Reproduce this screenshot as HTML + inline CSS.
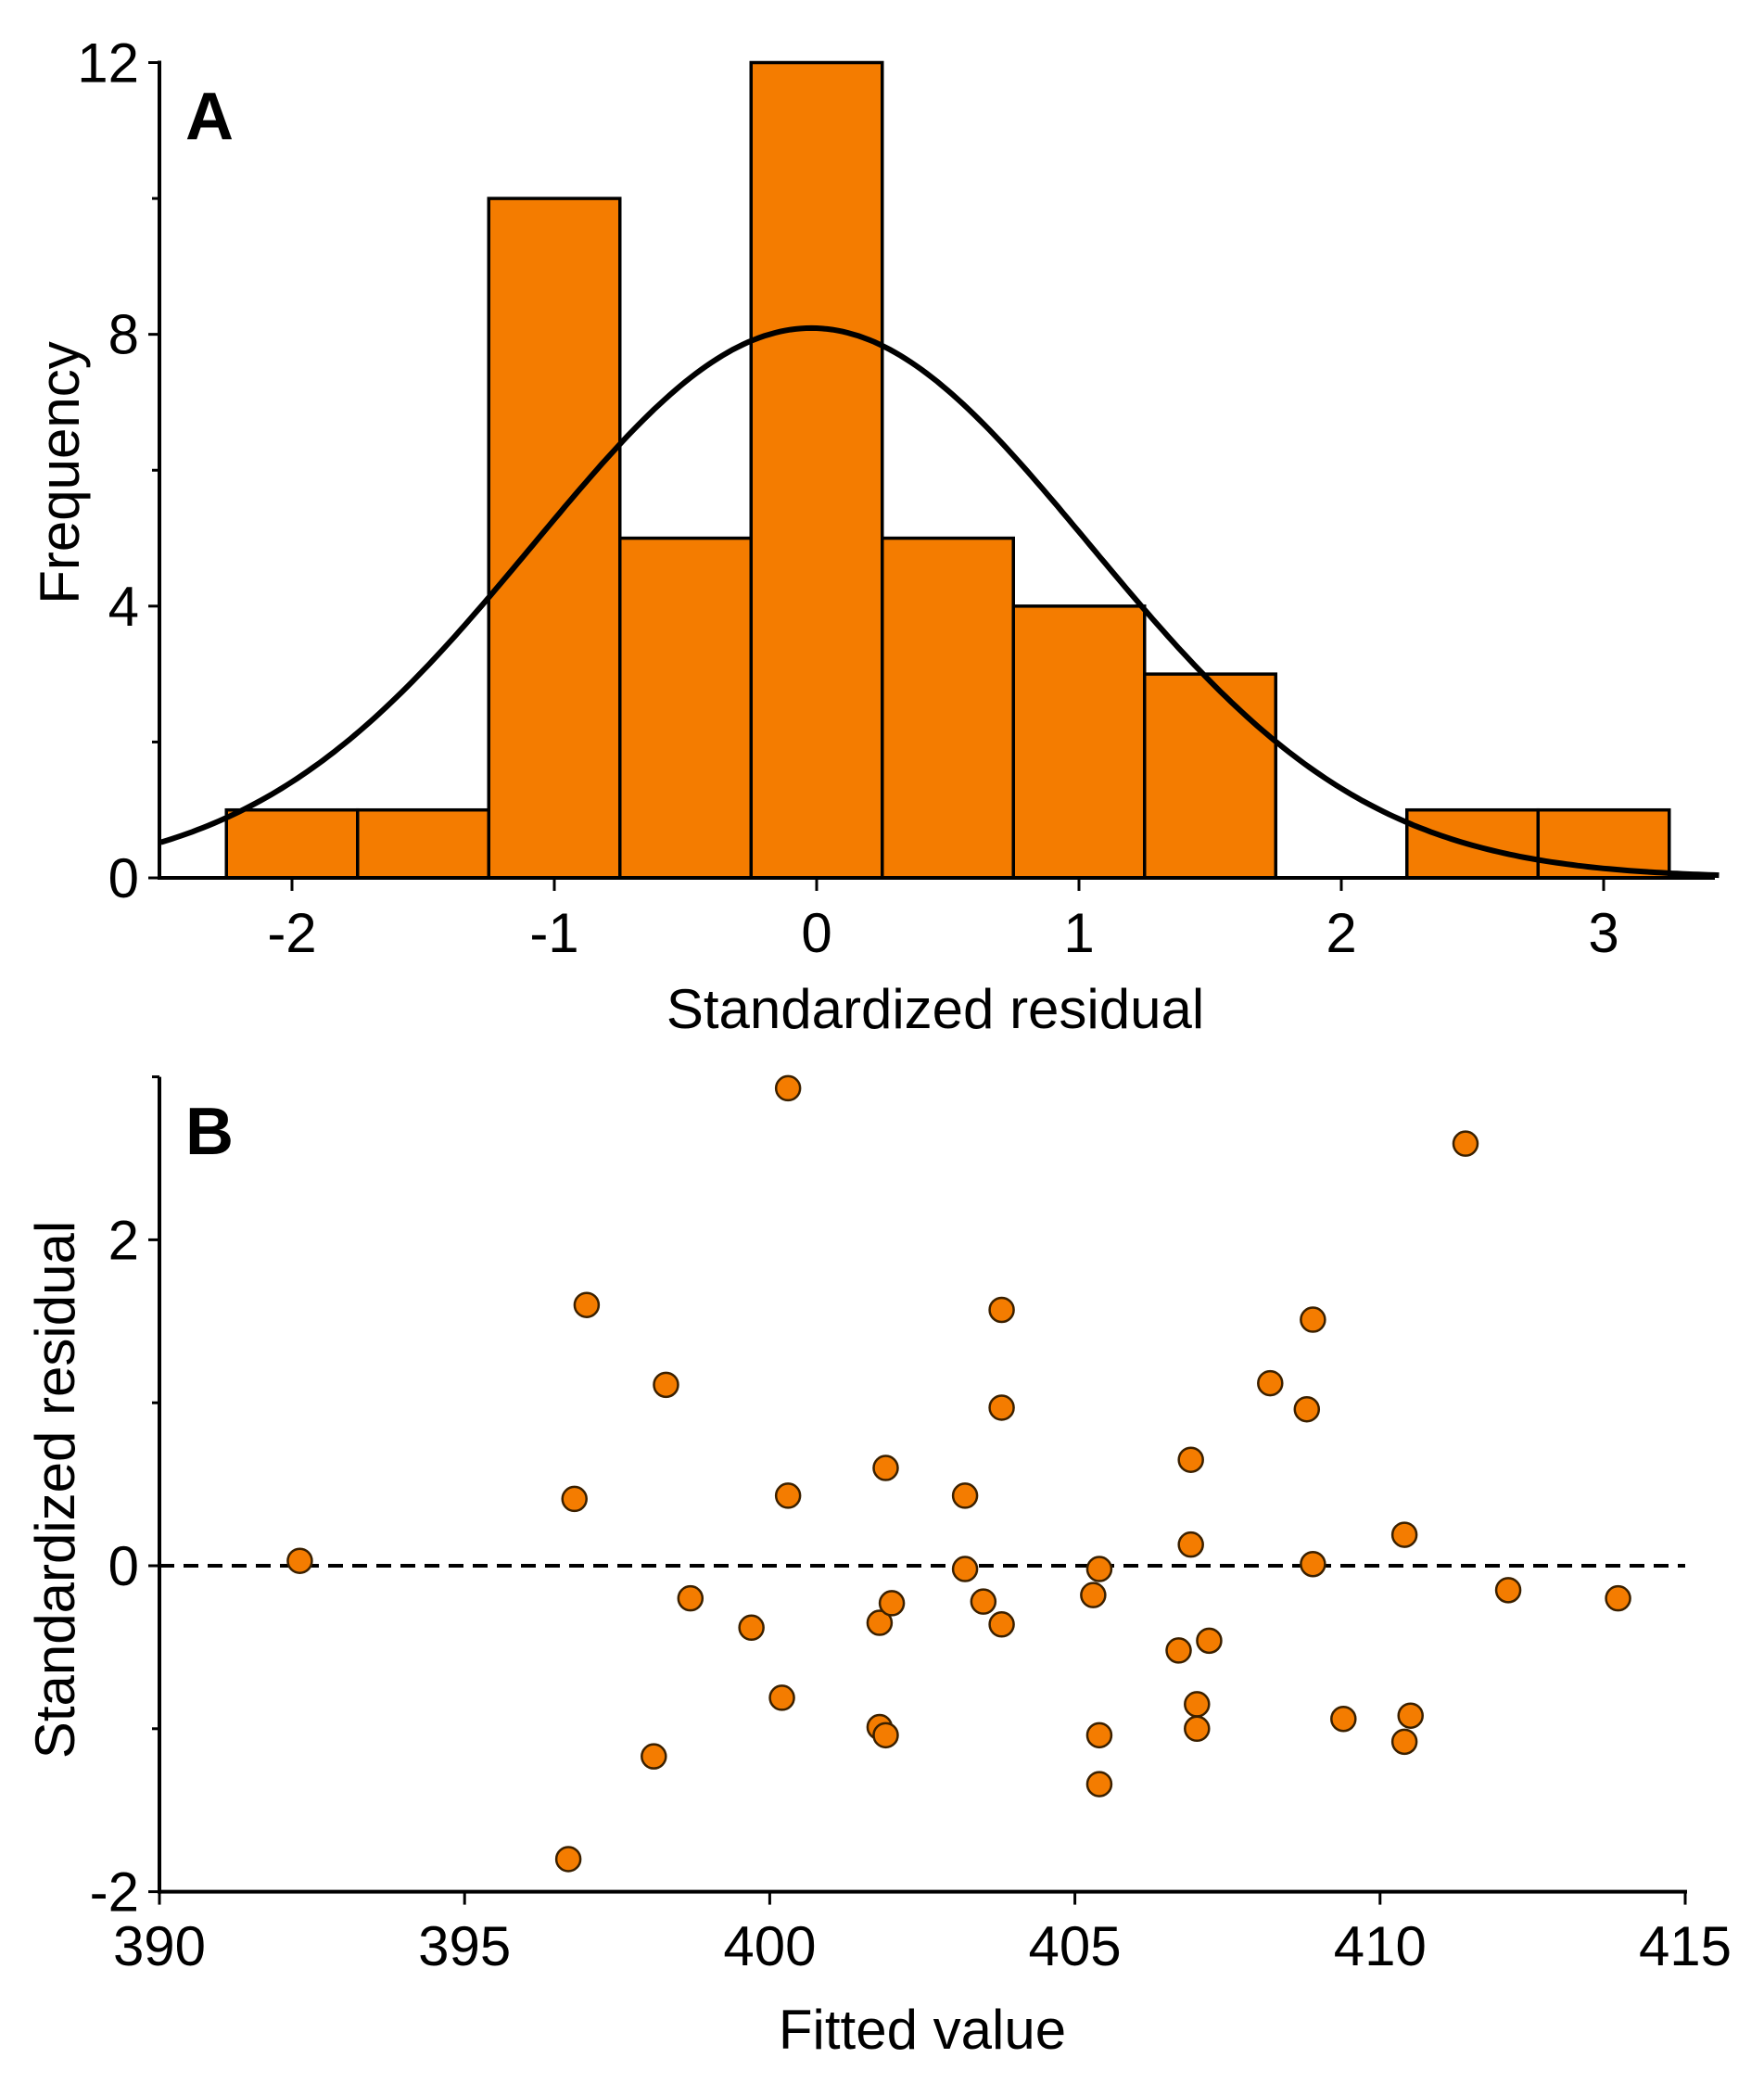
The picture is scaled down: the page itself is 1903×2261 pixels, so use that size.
<!DOCTYPE html>
<html><head><meta charset="utf-8"><style>
html,body{margin:0;padding:0;background:#fff;}
svg{display:block;font-family:"Liberation Sans",Arial,sans-serif;}
</style></head><body>
<svg id="chart" width="1903" height="2261" viewBox="0 0 1903 2261" xmlns="http://www.w3.org/2000/svg">
<g id="pa"></g>
<g id="pb"></g>
</svg>
<script>
// Panel A data
const binStarts = [-2.25,-1.75,-1.25,-0.75,-0.25,0.25,0.75,1.25,1.75,2.25,2.75];
const binCounts = [1,1,10,5,12,5,4,3,0,1,1];
const binWidth = 0.5;
const aXTicks = [-2,-1,0,1,2,3];
const aYTicks = [0,4,8,12];
const aYMinor = [2,6,10];
const curveMean = -0.02;
const curveSd = 1.06;
const curveN = 43;
// Panel B data
const fitted = [392.3,397.0,396.8,396.7,398.3,398.1,398.7,399.7,400.3,400.3,400.2,401.9,401.8,402.0,401.8,401.9,403.2,403.2,403.5,403.8,403.8,403.8,405.4,405.3,405.4,405.4,406.7,406.9,406.9,407.0,407.0,407.2,408.2,408.8,408.9,408.9,409.4,410.4,410.5,410.4,411.4,412.1,413.9];
const resid = [0.03,1.6,0.41,-1.8,1.11,-1.17,-0.2,-0.38,2.93,0.43,-0.81,0.6,-0.35,-0.23,-0.99,-1.04,0.43,-0.02,-0.22,1.57,0.97,-0.36,-0.02,-0.18,-1.04,-1.34,-0.52,0.13,0.65,-0.85,-1.0,-0.46,1.12,0.96,1.51,0.01,-0.94,0.19,-0.92,-1.08,2.59,-0.15,-0.2];
const bXTicks = [390,395,400,405,410,415];
const bYTicks = [-2,0,2];
const bYMinor = [-1,1,3];

const NS="http://www.w3.org/2000/svg";
function mk(parent,tag,attrs,text){const e=document.createElementNS(NS,tag);for(const k in attrs)e.setAttribute(k,attrs[k]);if(text!==undefined)e.textContent=text;parent.appendChild(e);return e;}

// ---- Panel A ----
const pa=document.getElementById('pa');
const ax=v=>881+v*283;
const ay=v=>947-v*(947-67.5)/12;
binStarts.forEach((s,i)=>{
  const r=mk(pa,'rect',{x:ax(s),y:ay(binCounts[i]),width:ax(s+binWidth)-ax(s),height:ay(0)-ay(binCounts[i]),fill:'#f47c00',stroke:'#000','stroke-width':3.5});
  
  
});
let d='';
for(let x=-2.5;x<=3.45;x+=0.02){
  const y=curveN*binWidth/(curveSd*Math.sqrt(2*Math.PI))*Math.exp(-((x-curveMean)**2)/(2*curveSd*curveSd));
  d+=(d?'L':'M')+ax(x).toFixed(1)+','+ay(y).toFixed(1);
}
const cp=mk(pa,'path',{d:d,fill:'none',stroke:'#000','stroke-width':6});


const ya=mk(pa,'line',{x1:172,y1:ay(12)-2,x2:172,y2:949,stroke:'#000','stroke-width':4});


const xa=mk(pa,'line',{x1:170,y1:947,x2:1850,y2:947,stroke:'#000','stroke-width':4});


aYTicks.forEach(v=>{
  mk(pa,'line',{x1:160,y1:ay(v),x2:172,y2:ay(v),stroke:'#000','stroke-width':3});
  const t=mk(pa,'text',{x:150,y:ay(v)+21,'font-size':60,'text-anchor':'end'},String(v));
  
  
});
aYMinor.forEach(v=>mk(pa,'line',{x1:164,y1:ay(v),x2:172,y2:ay(v),stroke:'#000','stroke-width':3}));
aXTicks.forEach(v=>{
  mk(pa,'line',{x1:ax(v),y1:947,x2:ax(v),y2:961,stroke:'#000','stroke-width':3});
  const t=mk(pa,'text',{x:ax(v),y:1027,'font-size':60,'text-anchor':'middle'},String(v));
  
  
});
let t;
t=mk(pa,'text',{x:1009,y:1109,'font-size':60,'text-anchor':'middle'},'Standardized residual');


t=mk(pa,'text',{x:0,y:0,'font-size':60,'text-anchor':'middle',transform:'translate(85,510) rotate(-90)'},'Frequency');


t=mk(pa,'text',{x:200,y:150,'font-size':72,'font-weight':'bold'},'A');



// ---- Panel B ----
const pb=document.getElementById('pb');
const bx=v=>172+(v-390)*(1818-172)/25;
const by=v=>1689-v*175.8;
const dl=mk(pb,'line',{x1:172,y1:by(0),x2:1818,y2:by(0),stroke:'#000','stroke-width':4,'stroke-dasharray':'16,10'});


fitted.forEach((f,i)=>{
  const c=mk(pb,'circle',{cx:bx(f),cy:by(resid[i]),r:13,fill:'#f47c00',stroke:'#3a2000','stroke-width':2.5});
  
  
});
const yb=mk(pb,'line',{x1:172,y1:by(3),x2:172,y2:by(-2)+2,stroke:'#000','stroke-width':4});


const xb=mk(pb,'line',{x1:170,y1:by(-2),x2:1820,y2:by(-2),stroke:'#000','stroke-width':4});


bYTicks.forEach(v=>{
  mk(pb,'line',{x1:160,y1:by(v),x2:172,y2:by(v),stroke:'#000','stroke-width':3});
  const t=mk(pb,'text',{x:150,y:by(v)+21,'font-size':60,'text-anchor':'end'},String(v));
  
  
});
bYMinor.forEach(v=>mk(pb,'line',{x1:164,y1:by(v),x2:172,y2:by(v),stroke:'#000','stroke-width':3}));
bXTicks.forEach(v=>{
  mk(pb,'line',{x1:bx(v),y1:by(-2),x2:bx(v),y2:by(-2)+14,stroke:'#000','stroke-width':3});
  const t=mk(pb,'text',{x:bx(v),y:2120,'font-size':60,'text-anchor':'middle'},String(v));
  
  
});
t=mk(pb,'text',{x:995,y:2210,'font-size':60,'text-anchor':'middle'},'Fitted value');


t=mk(pb,'text',{x:0,y:0,'font-size':60,'text-anchor':'middle',transform:'translate(80,1607) rotate(-90)'},'Standardized residual');


t=mk(pb,'text',{x:200,y:1245,'font-size':72,'font-weight':'bold'},'B');


</script>
</body></html>
